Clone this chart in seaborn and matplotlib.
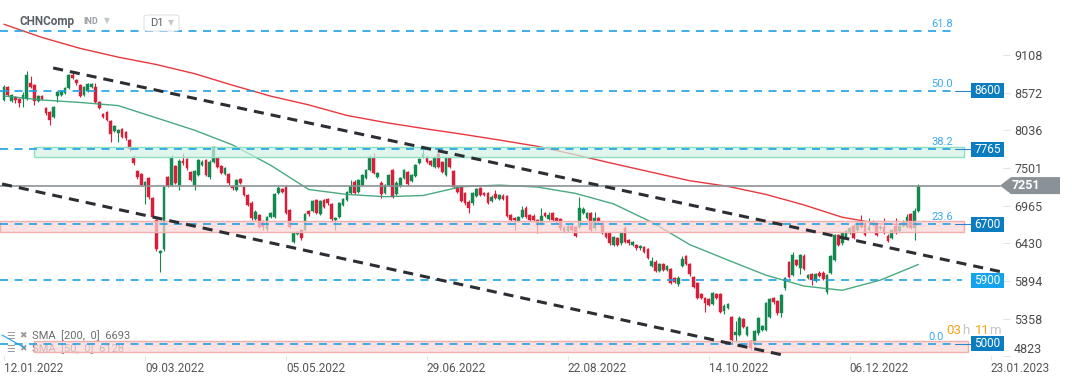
import matplotlib
matplotlib.use("Agg")
import matplotlib.pyplot as plt
import matplotlib.transforms as mtransforms
from matplotlib.patches import Rectangle, Polygon, FancyBboxPatch
import numpy as np
import pandas as pd
import seaborn as sns

# daily candles, CHNComp D1 (index 0 = 12.01.2022)
opens = [8470, 8651, 8460, 8517, 8484, 8484, 8484, 8708, 8684, 8460,
         8527, 8352, 8295, 8232, 8531, 8545, 8565, 8637, 8826, 8755,
         8684, 8541, 8602, 8659, 8651, 8446, 8271, 8303, 8175, 8033,
         7996, 8053, 8019, 7900, 7663, 7459, 7416, 7245, 7355, 7070,
         6761, 6287, 6344, 7369, 7260, 7530, 7260, 7606, 7634, 7449,
         7260, 7402, 7544, 7616, 7369, 7591, 7640, 7530, 7412, 7412,
         7245, 7188, 7341, 7227, 7117, 7008, 6775, 6832, 6737, 6629,
         6800, 6808, 7141, 7203, 7235, 6904, 6452, 6562, 6619, 6619,
         6889, 6894, 7046, 6847, 7046, 7060, 6989, 6761, 6808, 6975,
         7046, 7150, 7307, 7164, 7260, 7355, 7473, 7648, 7378, 7292,
         7141, 7260, 7473, 7131, 7245, 7355, 7449, 7321, 7388, 7577,
         7663, 7663, 7606, 7512, 7701, 7583, 7402, 7640, 7459, 7235,
         7227, 7150, 7022, 6999, 7103, 7213, 7150, 7150, 7036, 7127,
         7056, 7107, 7103, 6832, 6785, 6751, 6800, 6936, 6832, 6822,
         6761, 6704, 6857, 6771, 6857, 6785, 6771, 6652, 6609, 6680,
         6657, 6666, 6857, 6785, 6857, 6643, 6785, 6714, 6572, 6572,
         6405, 6501, 6429, 6652, 6476, 6405, 6405, 6358, 6381, 6348,
         6106, 6167, 6039, 6135, 6049, 6064, 5931, 5846, 6111, 6249,
         6130, 5954, 5860, 5703, 5655, 5632, 5565, 5707, 5707, 5470,
         5512, 5384, 5124, 5124, 5352, 5124, 5038, 4991, 5148, 5195,
         5195, 5384, 5646, 5608, 5432, 5789, 6159, 5978, 6192, 6073,
         6253, 5940, 5988, 5893, 6011, 6011, 5740, 6002, 6192, 6548,
         6429, 6523, 6580, 6680, 6619, 6737, 6714, 6619, 6737, 6700,
         6643, 6666, 6538, 6501, 6676, 6600, 6680, 6666, 6842, 6643,
         6894]
closes = [8659, 8541, 8541, 8470, 8432, 8541, 8826, 8659, 8456, 8527,
          8489, 8281, 8185, 8375, 8588, 8598, 8637, 8826, 8788, 8708,
          8531, 8651, 8698, 8698, 8446, 8352, 8232, 8185, 7986, 8100,
          8043, 7947, 7925, 7768, 7569, 7369, 7260, 7298, 7085, 6808,
          6344, 6324, 7235, 7245, 7663, 7292, 7606, 7569, 7497, 7331,
          7463, 7616, 7591, 7402, 7591, 7805, 7520, 7426, 7497, 7284,
          7213, 7331, 7292, 7117, 6975, 6785, 6880, 6666, 6657, 6800,
          6857, 7131, 7221, 7164, 6865, 6666, 6572, 6595, 6501, 6847,
          6842, 7032, 6857, 7032, 6951, 6999, 6771, 6785, 6999, 7060,
          7164, 7250, 7150, 7331, 7402, 7473, 7663, 7426, 7426, 7131,
          7260, 7402, 7093, 7292, 7364, 7473, 7274, 7402, 7544, 7626,
          7701, 7591, 7544, 7654, 7512, 7449, 7640, 7520, 7235, 7164,
          7036, 6999, 6928, 7141, 7198, 7117, 7117, 7008, 7093, 7070,
          7117, 7060, 6818, 6761, 6761, 6800, 6904, 6800, 6761, 6761,
          6690, 6818, 6818, 6832, 6761, 6751, 6643, 6609, 6680, 6619,
          6538, 6936, 6918, 6857, 6619, 6785, 6737, 6572, 6515, 6429,
          6523, 6405, 6572, 6452, 6429, 6444, 6358, 6391, 6310, 6224,
          6177, 6039, 6130, 6049, 6106, 5868, 5883, 5940, 6206, 6130,
          5988, 5811, 5655, 5646, 5584, 5551, 5717, 5655, 5455, 5541,
          5565, 5052, 5171, 5370, 5242, 5233, 4943, 5185, 5361, 5252,
          5575, 5632, 5589, 5432, 5693, 5931, 5954, 6263, 6120, 6263,
          6063, 5978, 5907, 5988, 5968, 5921, 5978, 6249, 6548, 6405,
          6572, 6609, 6643, 6509, 6723, 6666, 6548, 6666, 6700, 6548,
          6666, 6580, 6462, 6619, 6572, 6680, 6737, 6800, 6652, 6889,
          7251]
highs = [8684, 8665, 8560, 8530, 8500, 8588, 8883, 8812, 8700, 8545,
         8545, 8370, 8310, 8390, 8605, 8615, 8655, 8845, 8873, 8770,
         8700, 8665, 8715, 8715, 8716, 8460, 8290, 8320, 8190, 8120,
         8060, 8070, 8035, 7915, 7680, 7475, 7435, 7315, 7375, 7085,
         6780, 6340, 7250, 7385, 7690, 7545, 7625, 7715, 7650, 7465,
         7480, 7635, 7610, 7635, 7610, 7820, 7655, 7545, 7515, 7430,
         7260, 7350, 7360, 7245, 7135, 7025, 6900, 6850, 6755, 6820,
         6875, 7150, 7240, 7220, 7255, 6920, 6590, 6610, 6635, 6865,
         6905, 7050, 7065, 7050, 7065, 7075, 7005, 6800, 7015, 7075,
         7180, 7330, 7325, 7350, 7420, 7490, 7680, 7711, 7445, 7310,
         7280, 7420, 7490, 7310, 7380, 7490, 7465, 7420, 7560, 7645,
         7805, 7680, 7620, 7670, 7740, 7600, 7655, 7655, 7475, 7250,
         7245, 7165, 7040, 7160, 7215, 7230, 7165, 7165, 7110, 7188,
         7135, 7125, 7120, 6850, 6800, 6815, 6960, 6955, 6850, 6840,
         6775, 6932, 6875, 6870, 6875, 6800, 6790, 6670, 6700, 6700,
         6675, 7093, 6940, 6875, 6875, 6880, 6800, 6730, 6590, 6590,
         6540, 6520, 6590, 6670, 6495, 6460, 6420, 6405, 6395, 6365,
         6230, 6185, 6150, 6150, 6125, 6080, 5950, 5960, 6250, 6265,
         6145, 5970, 5875, 5720, 5670, 5650, 5735, 5725, 5725, 5560,
         5580, 5400, 5320, 5390, 5370, 5250, 5055, 5200, 5380, 5270,
         5595, 5650, 5665, 5625, 5710, 5950, 6175, 6300, 6210, 6280,
         6270, 5995, 6005, 6005, 6030, 6030, 5995, 6265, 6565, 6565,
         6590, 6625, 6660, 6700, 6740, 6832, 6730, 6785, 6755, 6720,
         6685, 6790, 6555, 6635, 6794, 6700, 6755, 6850, 6860, 6928,
         7274]
lows = [8456, 8520, 8440, 8427, 8375, 8375, 8470, 8640, 8399, 8440,
        8470, 8260, 8114, 8215, 8446, 8530, 8550, 8620, 8770, 8690,
        8515, 8525, 8585, 8645, 8430, 8335, 8215, 8165, 7876, 8015,
        7876, 7930, 7905, 7745, 7550, 7350, 7240, 6989, 7065, 6790,
        6320, 6025, 6320, 7225, 7240, 7275, 7188, 7550, 7480, 7315,
        7188, 7385, 7525, 7385, 7350, 7575, 7505, 7410, 7395, 7265,
        7195, 7170, 7275, 7100, 6955, 6765, 6755, 6645, 6620, 6610,
        6785, 6790, 7125, 7145, 6845, 6645, 6430, 6545, 6480, 6600,
        6825, 6875, 6840, 6830, 6935, 6980, 6750, 6620, 6790, 6960,
        7030, 7135, 7135, 7145, 7245, 7340, 7455, 7410, 7360, 7070,
        7125, 7245, 7075, 7115, 7230, 7340, 7255, 7305, 7370, 7560,
        7645, 7575, 7525, 7495, 7495, 7430, 7385, 7505, 7215, 7145,
        7015, 6980, 6857, 6980, 7085, 7100, 7100, 6990, 7020, 7055,
        7040, 7045, 6800, 6745, 6619, 6735, 6785, 6785, 6745, 6745,
        6572, 6690, 6800, 6755, 6745, 6720, 6625, 6590, 6590, 6600,
        6520, 6650, 6840, 6770, 6600, 6625, 6720, 6555, 6500, 6410,
        6390, 6390, 6410, 6435, 6410, 6390, 6340, 6340, 6290, 6205,
        6090, 6020, 6020, 6030, 6030, 5850, 5865, 5815, 6095, 6115,
        5970, 5795, 5635, 5630, 5455, 5535, 5550, 5640, 5435, 5420,
        5495, 4990, 5028, 5105, 5225, 5105, 4910, 4975, 5130, 5180,
        5180, 5365, 5570, 5415, 5384, 5770, 5935, 5960, 6100, 5988,
        6045, 5920, 5836, 5875, 5950, 5905, 5707, 5985, 6175, 6390,
        6410, 6505, 6565, 6490, 6600, 6650, 6530, 6600, 6680, 6530,
        6625, 6560, 6445, 6485, 6555, 6585, 6665, 6650, 6635, 6477,
        6880]

# moving averages read every 10 bars
sma_idx = [0, 10, 20, 30, 40, 50, 60, 70, 80, 90, 100, 110, 120,
           130, 140, 150, 160, 170, 180, 190, 200, 210, 220, 230, 240]
sma200 = [9548, 9360, 9205, 9080, 8975, 8845, 8680, 8525, 8400, 8250, 8150, 8065, 7985,
          7900, 7810, 7690, 7563, 7441, 7320, 7240, 7125, 6975, 6800, 6705, 6693]
sma50 = [8527, 8470, 8435, 8390, 8215, 8040, 7830, 7540, 7195, 7125, 7093, 7110, 7235,
         7258, 7230, 7140, 6990, 6730, 6410, 6190, 5975, 5820, 5760, 5905, 6128]

# price levels
fib_levels = [9450, 8600, 7765, 6700, 5000]
fib_labels = ["61.8", "50.0", "38.2", "23.6", "0.0"]
support_level = 5900
last_price = 7251
green_zone = (7663, 7805)
red_zone = (6595, 6747)
low_zone = (4886, 5031)

# trend channel (bar index, price)
upper_trend = ([12.9, 261.9], [8926, 6021])
lower_trend = ([-0.5, 205.5], [7274, 4825])

yticks = [4823, 5358, 5894, 6430, 6965, 7501, 8036, 8572, 9108]
xtick_pos = [0, 37, 74, 111, 148, 185, 222, 259]
xtick_lab = ["12.01.2022", "09.03.2022", "05.05.2022", "29.06.2022",
             "22.08.2022", "14.10.2022", "06.12.2022", "23.01.2023"]

GREEN = "#13884f"
RED = "#d81f3a"
BLUE = "#1ea0e8"
BOX = "#0b7cc0"

sns.set_theme(style="white")
plt.rcParams['font.family'] = ['Roboto', 'DejaVu Sans']

df = pd.DataFrame({"open": opens, "high": highs, "low": lows, "close": closes})
df["idx"] = np.arange(len(df))
up = df["close"] >= df["open"]
cols = np.where(up, GREEN, RED)

W, H = 1072, 382
AXW, AXH = 1003, 357.7
fig = plt.figure(figsize=(W / 100, H / 100), dpi=100)
ax = fig.add_axes([0, 1 - AXH / H, AXW / W, AXH / H])
ax.set_xlim(-1.05, 262.2)
ax.set_ylim(4800, 9894)
upp = (9894 - 4800) / AXH


def fx(px):
    return px / AXW


blend = mtransforms.blended_transform_factory(ax.transAxes, ax.transData)

# candles
ax.vlines(df["idx"], df["low"], df["high"], colors=cols, lw=0.8, zorder=3)
body = (df["close"] - df["open"]).abs().clip(lower=10)
ax.bar(df["idx"], body, bottom=df[["open", "close"]].min(axis=1), width=0.72,
       color=cols, edgecolor=cols, linewidth=0.3, zorder=4)

sns.lineplot(x=sma_idx, y=sma200, ax=ax, color="#e8383d", linewidth=1.0, zorder=5)
sns.lineplot(x=sma_idx, y=sma50, ax=ax, color="#35a173", linewidth=1.0, alpha=0.9, zorder=5)

# zones
ax.axhspan(*green_zone, xmin=fx(34), xmax=fx(964), facecolor="#d3f3e6", alpha=0.7,
           edgecolor="none", zorder=6)
ax.axhspan(*green_zone, xmin=fx(34), xmax=fx(964), facecolor="none",
           edgecolor="#8edfc2", lw=1, zorder=6)
for lo, hi, x0, x1 in [(red_zone[0], red_zone[1], 0, 964), (low_zone[0], low_zone[1], 34, 968)]:
    ax.axhspan(lo, hi, xmin=fx(x0), xmax=fx(x1), facecolor="#fbd6d6", alpha=0.7,
               edgecolor="none", zorder=6)
    ax.axhspan(lo, hi, xmin=fx(x0), xmax=fx(x1), facecolor="none",
               edgecolor="#f3aeae", lw=1, zorder=6)

# legend text (under zones)
fig_t = fig.transFigure
for yy, lab in [(336, "SMA  [200,  0]  6693"), (349, "SMA  [50,  0]  6128")]:
    ax.text(6 / W, 1 - yy / H, "\u2630", transform=fig_t, fontsize=7, color="#9a9a9a",
            va="center", zorder=5.5)
    ax.text(19 / W, 1 - yy / H, "\u2716", transform=fig_t, fontsize=6.5, color="#9a9a9a",
            va="center", zorder=5.5)
    ax.text(32 / W, 1 - yy / H, lab, transform=fig_t, fontsize=8,
            color="#6b6b6b", va="center", zorder=5.5)
ax.plot([2 / W, 25 / W], [1 - 335 / H, 1 - 348 / H], transform=fig_t, color=BLUE,
        lw=0.8, zorder=7)

# horizontal levels
for lvl, lab in zip(fib_levels, fib_labels):
    ax.axhline(lvl, xmin=0, xmax=fx(956), color=BLUE, lw=1.2, dashes=(4.8, 3.9), zorder=7)
    xr = 953 if lab != "0.0" else 944
    ax.annotate(lab, xy=(fx(xr), lvl), xycoords=blend, xytext=(0, 1.5),
                textcoords="offset points", ha="right", va="bottom", fontsize=8,
                color="#3aa9ee", zorder=8)
ax.axhline(support_level, xmin=0, xmax=fx(962), color=BLUE, lw=1.2, dashes=(4.8, 3.9), zorder=7)
ax.axhline(last_price, xmin=0, xmax=fx(1000), color="#8b9297", lw=1.2, zorder=7)

# trend channel
for xs, ys in [upper_trend, lower_trend]:
    ax.plot(xs, ys, color="#2b2f33", lw=2.2, dashes=(3.3, 2.3), zorder=8)

# right-side level boxes
for lvl in [8600, 7765, 6700, 5000]:
    ax.plot([fx(955), fx(971)], [lvl, lvl], transform=blend, color="#2a86c8", lw=0.8,
            zorder=8, clip_on=False)
for lvl, fill in [(8600, BOX), (7765, BOX), (6700, BOX), (5900, "#14a4ec"), (5000, BOX)]:
    ax.add_patch(Rectangle((fx(971), lvl - 7.5 * upp), fx(1004) - fx(971), 15 * upp,
                           transform=blend, facecolor=fill, edgecolor="none",
                           clip_on=False, zorder=9))
    ax.text(fx(987.5), lvl, str(lvl), transform=blend, ha="center", va="center",
            color="white", fontsize=8.5, zorder=10, clip_on=False)

pts = [(fx(1000), last_price), (fx(1011), last_price + 8.5 * upp),
       (fx(1060), last_price + 8.5 * upp), (fx(1060), last_price - 8.5 * upp),
       (fx(1011), last_price - 8.5 * upp)]
ax.add_patch(Polygon(pts, closed=True, transform=blend, facecolor="#8b9297",
                     edgecolor="none", clip_on=False, zorder=9))
ax.text(fx(1026), last_price, str(last_price), transform=blend, ha="center", va="center",
        color="white", fontsize=9, fontweight="bold", zorder=10, clip_on=False)

# countdown overlay
for txt, px, c in [("03", 946, "#f5a21b"), ("h", 962, "#c4c4c4"),
                   ("11", 975, "#f5a21b"), ("m", 989, "#c4c4c4")]:
    ax.text(fx(px), 5000 + 13 * upp, txt, transform=blend, ha="left", va="center",
            fontsize=9.5, color=c, zorder=11, clip_on=False)

# axes styling
for s in ax.spines.values():
    s.set_visible(False)
ax.yaxis.tick_right()
ax.set_yticks(yticks)
ax.set_yticklabels([str(t) for t in yticks])
ax.tick_params(axis="y", length=5, width=0.8, color="#e3e3e3", labelsize=9,
               labelcolor="#4d4d4d", pad=3, right=True, left=False)
ax.get_yticklabels()[0].set_va("bottom")
ax.set_xticks(xtick_pos)
ax.set_xticklabels(xtick_lab)
for lab in ax.get_xticklabels():
    lab.set_ha("left")
ax.tick_params(axis="x", length=3, width=0.8, color="#e3e3e3", labelsize=8.5,
               labelcolor="#555555", pad=1.5, bottom=True, direction="inout")
ax.set_xlabel("")
ax.set_ylabel("")

# header
fig.text(20 / W, 1 - 21 / H, "CHNComp", fontsize=8.5, fontweight="bold",
         color="#596068", va="center")
fig.text(83 / W, 1 - 22 / H, "IND", fontsize=6.5, fontweight="bold",
         color="#9aa0a6", va="center")
fig.text(104 / W, 1 - 21 / H, "\u25bc", fontsize=5.5, color="#c3c7cb", va="center")
fig.add_artist(FancyBboxPatch((144 / W, 1 - 31 / H), 35 / W, 16 / H,
                              boxstyle="round,pad=0,rounding_size=0.004",
                              transform=fig.transFigure, facecolor="white",
                              edgecolor="#dfe2e5", lw=0.8))
fig.text(150 / W, 1 - 23 / H, "D1", fontsize=8, color="#596068", va="center")
fig.text(168 / W, 1 - 23 / H, "\u25bc", fontsize=5.5, color="#c3c7cb", va="center")

fig.savefig("out.png", dpi=100)
